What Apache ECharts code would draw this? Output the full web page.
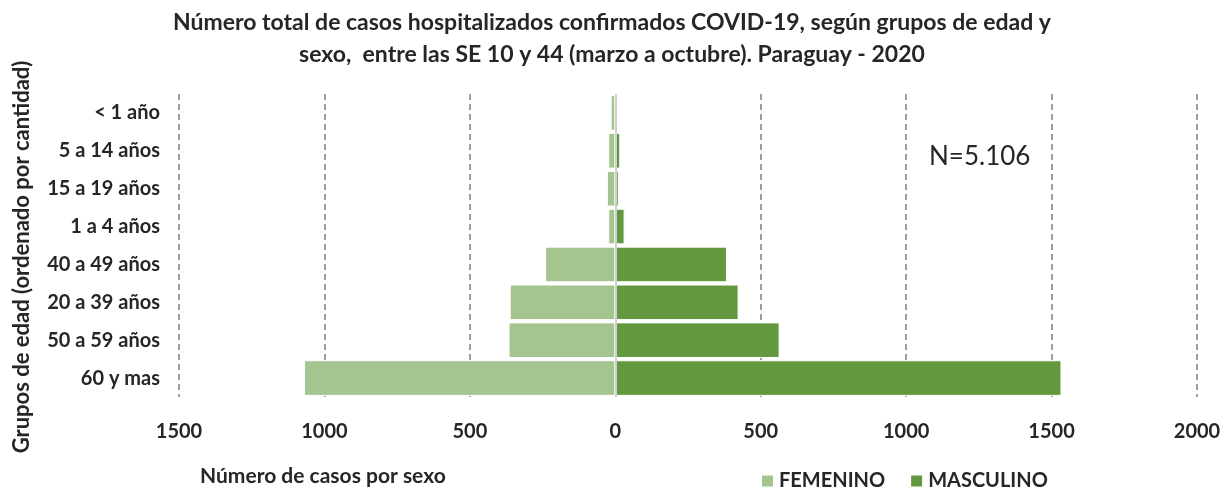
<!DOCTYPE html>
<html><head><meta charset="utf-8">
<script src="https://cdn.jsdelivr.net/npm/echarts@6/dist/echarts.min.js"></script>
<style>html,body{margin:0;padding:0;background:#fff}#c{width:1224px;height:493px}</style>
</head><body><div id="c"></div>
<script>
const categories = ['< 1 año','5 a 14 años','15 a 19 años','1 a 4 años','40 a 49 años','20 a 39 años','50 a 59 años','60 y mas'];
const femenino = [16, 24, 29, 24, 241, 363, 367, 1070];
const masculino = [8, 17, 12, 32, 384, 424, 565, 1534];
const xTicks = { min: -1500, max: 2000, interval: 500 };
const FONT = 'Lato, "Noto Sans", sans-serif';
const TXT = '#262626';

const chart = echarts.init(document.getElementById('c'), null, {renderer:'canvas'});
chart.setOption({
  animation: false,
  textStyle: { fontFamily: FONT },
  title: {
    text: 'Número total de casos hospitalizados confirmados COVID-19, según grupos de edad y\nsexo,  entre las SE 10 y 44 (marzo a octubre). Paraguay - 2020',
    left: 'center', top: 2,
    textStyle: { fontFamily: FONT, fontSize: 23, fontWeight: 'bold', color: TXT, lineHeight: 32 }
  },
  legend: {
    data: ['FEMENINO','MASCULINO'],
    left: 760, top: 471, padding: 0,
    itemWidth: 13, itemHeight: 13, itemGap: 24,
    icon: 'rect',
    textStyle: { fontFamily: FONT, fontSize: 20, fontWeight: 'bold', color: TXT }
  },
  grid: { left: 179, right: 27, top: 94, bottom: 96, containLabel: false, outerBoundsMode: 'none' },
  xAxis: {
    type: 'value', min: xTicks.min, max: xTicks.max, interval: xTicks.interval,
    axisLine: { show: false }, axisTick: { show: false },
    axisLabel: { margin: 25, fontFamily: FONT, fontSize: 20, fontWeight: 'bold', color: TXT,
      formatter: v => String(Math.abs(v)) },
    splitLine: { show: true, lineStyle: { color: '#7f7f7f', type: [6,4], width: 1.5 } }
  },
  yAxis: {
    type: 'category', data: categories, inverse: true,
    axisLine: { show: false }, axisTick: { show: false },
    axisLabel: { margin: 19, fontFamily: FONT, fontSize: 20, fontWeight: 'bold', color: TXT }
  },
  graphic: [
    { type: 'text', x: 22, y: 257, rotation: Math.PI / 2,
      style: { text: 'Grupos de edad (ordenado por cantidad)', font: 'bold 22px ' + FONT, fill: TXT, align: 'center', verticalAlign: 'middle' } },
    { type: 'text', left: 200, top: 466, style: { text: 'Número de casos por sexo', font: 'bold 21px ' + FONT, fill: TXT } },
    { type: 'text', left: 929, top: 144, style: { text: 'N=5.106', font: '26px ' + FONT, fill: TXT } }
  ],
  series: [
    { name: 'FEMENINO', type: 'bar', stack: 'p', data: femenino.map(v => -v), barCategoryGap: '6%',
      itemStyle: { color: '#a4c490', borderColor: '#fff', borderWidth: 1 },
      markLine: { silent: true, symbol: 'none', label: { show: false },
        lineStyle: { color: '#d0d0d0', type: 'solid', width: 2 }, data: [{ xAxis: 0 }] } },
    { name: 'MASCULINO', type: 'bar', stack: 'p', data: masculino, barCategoryGap: '6%',
      itemStyle: { color: '#63993e', borderColor: '#fff', borderWidth: 1 } }
  ]
});
</script></body></html>
